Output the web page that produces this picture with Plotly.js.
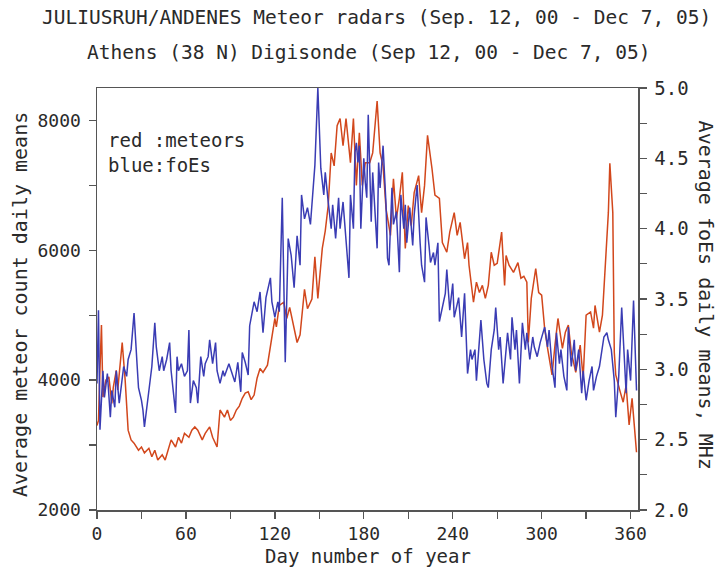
<!DOCTYPE html>
<html>
<head>
<meta charset="utf-8">
<script src="https://cdn.plot.ly/plotly-3.0.1.min.js"></script>
<style>html,body{margin:0;padding:0;background:#fff;}#chart{width:724px;height:572px;}</style>
</head>
<body>
<div id="chart"></div>
<script>
// Meteor count daily means (left axis), day of year
const meteorDays = [0,1,2,3,4,6,8,10,11,13,14,17,19,21,23,25,28,30,32,35,37,39,41,44,46,48,50,53,55,57,59,62,64,66,68,71,73,76,78,81,83,86,88,90,92,94,96,98,100,102,104,106,108,110,112,115,118,120,121,123,126,128,130,132,135,137,140,142,145,147,149,152,154,156,158,160,162,164,166,168,171,173,175,177,179,181,184,186,189,191,193,195,198,200,202,204,206,208,210,212,214,217,219,221,223,226,228,231,233,236,238,241,243,245,248,250,251,254,256,258,260,262,264,266,268,270,273,275,276,278,281,284,286,288,290,291,293,296,298,300,302,304,307,309,311,314,316,318,320,323,326,328,330,333,335,336,339,341,343,345,346,348,349,350,353,355,357,359,361,364];
const meteorCounts = [3300,3380,4150,4850,3740,4000,4050,3640,3890,4150,3850,4580,4000,3230,3080,3030,2920,2970,2880,2950,2820,2920,2770,2850,2770,2920,3080,2970,3120,3030,3180,3120,3230,3280,3230,3080,3180,3280,3120,2970,3540,3430,3540,3380,3430,3540,3600,3720,3800,3820,3700,3770,4030,4180,4120,4230,4650,4950,4820,5150,5200,4950,5120,4920,4580,4700,5400,5100,5250,5900,5260,6030,6300,6690,7500,7300,7920,8030,7610,8030,7350,8030,7000,7810,7000,7350,7350,7500,8300,7500,7300,6640,6230,7100,6490,6800,7200,6030,6690,6380,6890,7150,6580,7000,7770,7260,6850,6800,6120,5970,6280,6580,6230,6430,5870,6120,5770,5200,5510,5350,5460,5260,5460,5970,5770,5800,6280,5460,5920,5770,5660,5810,5570,5600,5510,4580,5260,5720,5350,5310,4800,4490,4080,4540,4950,4490,4740,4850,4430,4120,4540,4030,5000,5050,4800,5150,4740,5000,5720,6580,7340,6580,4430,4080,3820,3660,3920,3310,3720,2890];

// foEs daily means, MHz (right axis)
const foesDays = [0,1,2,4,5,7,9,10,12,13,15,17,18,20,21,23,25,27,28,30,31,32,34,36,37,39,40,42,44,45,47,49,50,53,54,55,57,59,61,62,63,65,67,68,70,72,73,75,76,78,80,81,83,85,86,89,91,93,95,97,98,100,102,103,106,108,110,112,114,117,118,120,122,123,125,126,127,129,131,133,135,137,138,140,142,144,146,147,149,151,153,154,156,158,159,161,163,164,166,168,170,171,173,174,175,176,177,178,180,181,182,183,185,186,187,189,190,191,193,195,196,197,199,200,202,204,205,207,208,209,211,213,214,216,218,219,221,222,224,225,227,228,230,231,235,236,238,240,241,244,246,248,250,252,253,255,256,258,259,261,263,264,266,268,269,271,272,274,276,277,279,280,282,283,285,287,289,290,292,294,295,297,299,300,302,304,305,307,309,310,312,313,315,317,318,320,322,323,325,327,328,330,332,334,335,337,339,340,342,344,345,347,349,350,352,354,355,357,358,360,362,363,364];
const foesMHz = [2.90,3.42,2.57,2.99,2.80,2.97,2.66,2.85,2.73,2.99,2.76,2.92,3.02,2.95,3.07,3.14,3.40,3.04,2.87,2.78,2.71,2.59,2.76,2.95,3.02,3.33,3.16,2.99,3.09,2.99,3.07,3.19,2.99,2.69,3.09,2.99,3.04,2.95,2.99,3.28,2.76,2.92,2.87,2.76,3.09,2.95,3.04,3.09,3.21,3.04,3.19,2.99,2.90,2.99,2.95,3.04,2.97,2.91,3.05,2.84,3.12,3.05,2.96,3.31,3.48,3.41,3.55,3.26,3.51,3.65,3.48,3.37,3.48,3.41,4.22,3.60,3.05,3.93,3.81,3.58,3.95,3.74,4.24,4.07,4.15,4.03,4.31,4.45,5.00,4.43,4.24,4.40,4.19,4.00,4.17,3.93,4.22,4.00,4.19,3.93,3.65,4.24,4.00,4.54,4.61,4.47,4.59,4.00,4.50,4.33,4.22,4.81,4.05,4.40,4.19,3.86,4.47,4.29,4.59,4.17,3.79,3.74,4.29,4.03,4.12,3.69,4.24,4.00,4.17,3.90,4.15,3.88,4.10,4.31,3.90,3.74,3.62,4.08,3.88,3.76,3.83,3.74,3.90,3.34,3.54,3.71,3.42,3.61,3.37,3.51,3.23,3.54,2.97,3.14,3.07,3.14,2.92,3.19,3.35,3.07,2.90,2.87,3.14,3.28,3.44,3.14,3.23,2.90,3.16,3.26,3.07,3.37,3.14,3.28,2.90,3.33,3.14,3.26,3.07,3.23,3.16,3.09,3.19,3.23,3.30,3.16,3.28,3.02,2.87,3.26,3.04,3.14,2.95,2.85,3.30,3.02,3.21,2.99,3.14,2.83,2.99,2.78,2.92,3.02,2.85,2.95,3.02,3.09,3.23,3.26,3.21,3.14,2.92,2.66,2.95,3.44,3.26,2.83,3.14,2.92,3.49,3.19,2.85];

const xTickVals = [0,60,120,180,240,300,360];
const leftTickVals = [2000,4000,6000,8000];
const rightTickVals = [2.0,2.5,3.0,3.5,4.0,4.5,5.0];

const FONT = 'DejaVu Sans Mono, Liberation Mono, monospace';
const TXT = '#2a2a2a';
const AX = '#555555';

const traces = [
  {x: meteorDays, y: meteorCounts, type: 'scatter', mode: 'lines', name: 'meteors',
   line: {color: '#d2471c', width: 1.5}, yaxis: 'y'},
  {x: foesDays, y: foesMHz, type: 'scatter', mode: 'lines', name: 'foEs',
   line: {color: '#3a3cb4', width: 1.5}, yaxis: 'y2'}
];

const layout = {
  width: 724, height: 572,
  margin: {l: 97, r: 86, t: 88, b: 62},
  paper_bgcolor: '#ffffff', plot_bgcolor: '#ffffff',
  showlegend: false,
  font: {family: FONT, color: TXT, size: 18},
  xaxis: {
    range: [0, 365], tickvals: xTickVals, ticktext: xTickVals.map(String),
    ticks: 'outside', ticklen: 7, tickwidth: 1.3, tickcolor: AX,
    minor: {dtick: 30, tick0: 0, ticks: 'outside', ticklen: 7, tickwidth: 1.3, tickcolor: AX},
    showline: true, linecolor: AX, linewidth: 1.5, mirror: true,
    showgrid: false, zeroline: false,
    tickfont: {family: FONT, size: 18, color: TXT}
  },
  yaxis: {
    range: [2000, 8500], tickvals: leftTickVals, ticktext: leftTickVals.map(String),
    ticks: 'outside', ticklen: 7, tickwidth: 1.3, tickcolor: AX, ticklabelstandoff: 4,
    minor: {dtick: 1000, tick0: 2000, ticks: 'outside', ticklen: 7, tickwidth: 1.3, tickcolor: AX},
    showline: true, linecolor: AX, linewidth: 1.5,
    showgrid: false, zeroline: false,
    tickfont: {family: FONT, size: 18, color: TXT}
  },
  yaxis2: {
    overlaying: 'y', side: 'right',
    range: [2.0, 5.0], tickvals: rightTickVals, ticktext: rightTickVals.map(v => v.toFixed(1)),
    ticks: 'outside', ticklen: 7, tickwidth: 1.3, tickcolor: AX, ticklabelstandoff: 4,
    minor: {dtick: 0.25, tick0: 2.0, ticks: 'outside', ticklen: 7, tickwidth: 1.3, tickcolor: AX},
    showline: true, linecolor: AX, linewidth: 1.5,
    showgrid: false, zeroline: false,
    tickfont: {family: FONT, size: 19, color: TXT}
  },
  annotations: [
    {text: 'JULIUSRUH/ANDENES Meteor radars (Sep. 12, 00 - Dec 7, 05)', xref: 'paper', yref: 'paper',
     x: 0.516, y: 1.166, xanchor: 'center', yanchor: 'middle', showarrow: false, font: {family: FONT, size: 19.5, color: TXT}},
    {text: 'Athens (38 N) Digisonde (Sep 12, 00 - Dec 7, 05)', xref: 'paper', yref: 'paper',
     x: 0.502, y: 1.085, xanchor: 'center', yanchor: 'middle', showarrow: false, font: {family: FONT, size: 19.5, color: TXT}},
    {text: 'Day number of year', xref: 'paper', yref: 'paper',
     x: 0.5, y: -0.11, xanchor: 'center', yanchor: 'middle', showarrow: false, font: {family: FONT, size: 19, color: TXT}},
    {text: 'Average meteor count daily means', xref: 'paper', yref: 'paper', textangle: -90,
     x: -0.142, y: 0.486, xanchor: 'center', yanchor: 'middle', showarrow: false, font: {family: FONT, size: 20, color: TXT}},
    {text: 'Average foEs daily means, MHz', xref: 'paper', yref: 'paper', textangle: 90,
     x: 1.126, y: 0.51, xanchor: 'center', yanchor: 'middle', showarrow: false, font: {family: FONT, size: 20, color: TXT}},
    {text: 'red :meteors', xref: 'paper', yref: 'paper',
     x: 0.017, y: 0.877, xanchor: 'left', yanchor: 'middle', showarrow: false, font: {family: FONT, size: 19, color: TXT}},
    {text: 'blue:foEs', xref: 'paper', yref: 'paper',
     x: 0.017, y: 0.818, xanchor: 'left', yanchor: 'middle', showarrow: false, font: {family: FONT, size: 19, color: TXT}}
  ]
};

Plotly.newPlot('chart', traces, layout, {displayModeBar: false, staticPlot: true});
</script>
</body>
</html>
